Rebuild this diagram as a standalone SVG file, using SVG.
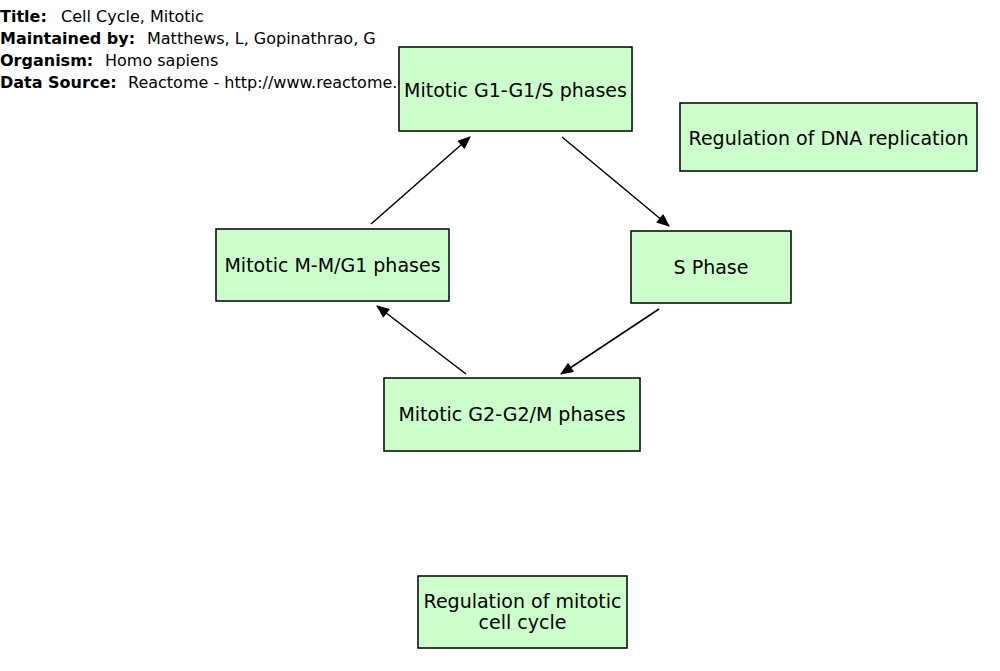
<svg xmlns="http://www.w3.org/2000/svg" width="1000" height="671" viewBox="0 0 1000 671">
<style>
text{font-family:"DejaVu Sans",sans-serif;fill:#000}
.h{font-size:16px}
.b{font-weight:bold}
.n rect{fill:#ccffcc;stroke:#000;stroke-width:1.5}
.n text{font-size:19px;text-anchor:middle}
.c line{stroke:#000;stroke-width:1.5;marker-end:url(#a)}
</style>
<defs>
<marker id="a" viewBox="0 0 12 10" refX="11" refY="5" markerWidth="14" markerHeight="11" markerUnits="userSpaceOnUse" orient="auto"><path d="M0,0L12,5L0,10z" fill="#000"/></marker>
</defs>
<g id="header" class="h">
<text x="0" y="22" class="b">Title:</text><text x="61" y="22">Cell Cycle, Mitotic</text>
<text x="0" y="44" class="b">Maintained by:</text><text x="147" y="44">Matthews, L, Gopinathrao, G</text>
<text x="0" y="66" class="b">Organism:</text><text x="105" y="66">Homo sapiens</text>
<text x="0" y="88" class="b">Data Source:</text><text x="128" y="88">Reactome - http://www.reactome.org</text>
</g>
<g id="n1" class="n"><rect x="399" y="47" width="233" height="84"/><text x="515.5" y="97">Mitotic G1-G1/S phases</text></g>
<g id="n2" class="n"><rect x="680" y="103" width="297" height="68"/><text x="828.5" y="145">Regulation of DNA replication</text></g>
<g id="n3" class="n"><rect x="216" y="229" width="233" height="72"/><text x="332.5" y="272">Mitotic M-M/G1 phases</text></g>
<g id="n4" class="n"><rect x="631" y="231" width="160" height="72"/><text x="711" y="274">S Phase</text></g>
<g id="n5" class="n"><rect x="384" y="378" width="256" height="73"/><text x="512" y="421">Mitotic G2-G2/M phases</text></g>
<g id="n6" class="n"><rect x="418" y="576" width="209" height="72"/><text x="522.5" y="608">Regulation of mitotic </text><text x="522.5" y="629">cell cycle</text></g>
<g id="connectors" class="c">
<line x1="371" y1="224" x2="470" y2="137"/>
<line x1="562" y1="137" x2="669" y2="226"/>
<line x1="659" y1="309" x2="561" y2="374"/>
<line x1="466" y1="374" x2="377" y2="306"/>
</g>
</svg>
